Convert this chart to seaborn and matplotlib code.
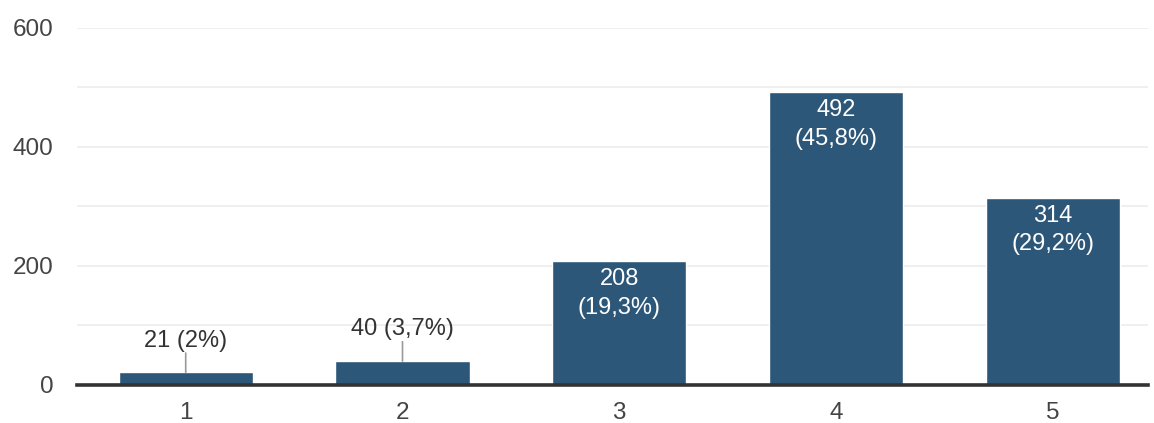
import matplotlib
matplotlib.use("Agg")
import matplotlib.pyplot as plt
import seaborn as sns
import pandas as pd

# --- data ---
categories = ["1", "2", "3", "4", "5"]
counts = [21, 40, 208, 492, 314]
percent_labels = ["2%", "3,7%", "19,3%", "45,8%", "29,2%"]
y_ticks = [0, 200, 400, 600]

BAR_COLOR = "#2d5778"

sns.set_style("white")
plt.rcParams["font.family"] = ["Liberation Sans", "DejaVu Sans"]

df = pd.DataFrame({"cat": categories, "count": counts})

fig = plt.figure(figsize=(11.54, 4.23), dpi=100)
ax = fig.add_axes([0.067, 0.09, 0.928, 0.844])

sns.barplot(data=df, x="cat", y="count", color=BAR_COLOR, width=0.62,
            saturation=1, ax=ax, zorder=3)

# gridlines every 100
ax.set_ylim(0, 600)
ax.set_xlim(-0.5, 4.44)
ax.set_yticks(y_ticks)
ax.set_yticks(range(0, 601, 100), minor=True)
ax.grid(axis="y", which="both", color="#ececec", linewidth=1.2, zorder=0)
ax.set_axisbelow(True)

for s in ["left", "right", "top"]:
    ax.spines[s].set_visible(False)
ax.spines["bottom"].set_color("#333333")
ax.spines["bottom"].set_linewidth(2.6)
ax.spines["bottom"].set_zorder(5)

ax.tick_params(axis="both", which="both", length=0, labelsize=17.5, colors="#444444")
ax.tick_params(axis="x", pad=12)
ax.tick_params(axis="y", pad=17)
ax.set_xlabel("")
ax.set_ylabel("")

# --- value labels ---
for i, (v, p) in enumerate(zip(counts, percent_labels)):
    if v < 100:
        ax.annotate("", xy=(i, v), xytext=(0, 14), textcoords="offset points",
                    arrowprops=dict(arrowstyle="-", color="#9a9a9a", lw=1.2,
                                    shrinkA=0, shrinkB=0), zorder=4)
        ax.annotate(f"{v} ({p})", xy=(i, v), xytext=(0, 18.5),
                    textcoords="offset points", ha="center", va="baseline",
                    fontsize=17, color="#333333")
    else:
        ax.annotate(f"{v}\n({p})", xy=(i, v), xytext=(0, -5),
                    textcoords="offset points", ha="center", va="top",
                    fontsize=17, color="white", linespacing=1.38, zorder=4)

fig.savefig("out.png", dpi=100, facecolor="white")
